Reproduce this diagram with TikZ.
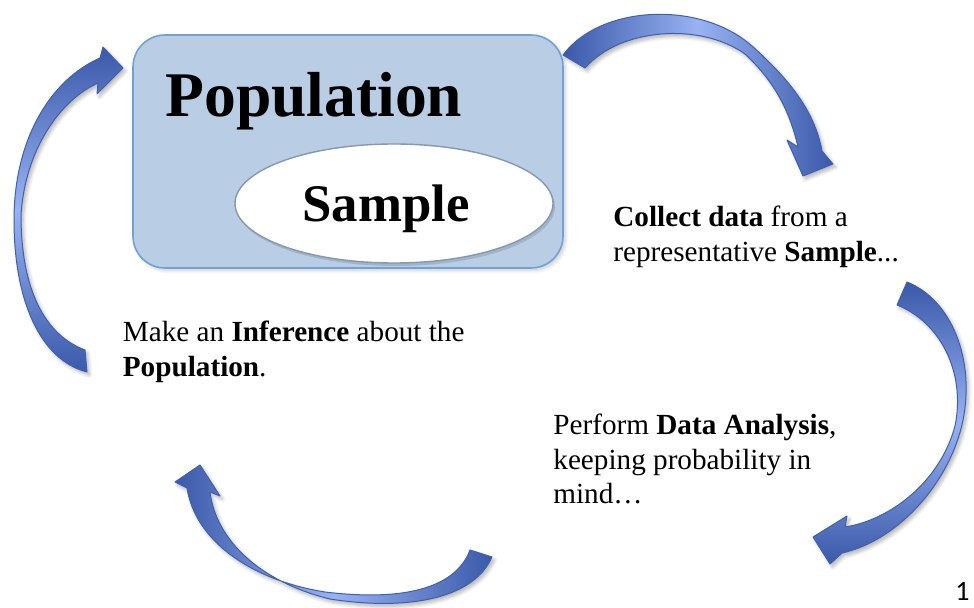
\documentclass[tikz,border=0pt]{standalone}
\usepackage{fontspec}
\setmainfont{Liberation Serif}
\newfontfamily\numfont{Carlito}
\usetikzlibrary{shapes.geometric,shadows.blur}
\definecolor{boxfill}{HTML}{B9CDE5}
\definecolor{boxline}{HTML}{6FA2D8}
\definecolor{ellline}{HTML}{8797AE}
\definecolor{adark}{HTML}{3A59A9}
\definecolor{alight}{HTML}{98B2F2}
\definecolor{aline}{HTML}{3F60B2}
\tikzset{
  popbox/.style={draw=boxline, fill=boxfill, line width=0.8pt, rounded corners=16pt,
    minimum width=215pt, minimum height=116.5pt, inner sep=0pt, outer sep=0pt,
    blur shadow={shadow xshift=1.2pt, shadow yshift=-1.2pt, shadow opacity=20, shadow blur steps=6}},
  sampell/.style={ellipse, draw=ellline, fill=white, line width=0.7pt,
    minimum width=159pt, minimum height=59.5pt, inner sep=0pt},
  ellshadow/.style={ellipse, fill=black, fill opacity=0.12, draw=none,
    minimum width=159pt, minimum height=59.5pt, inner sep=0pt},
  bigtxt/.style={anchor=base west, inner sep=0pt, font=\fontsize{31.8pt}{36pt}\selectfont\bfseries},
  midtxt/.style={anchor=base west, inner sep=0pt, font=\fontsize{26.4pt}{30pt}\selectfont\bfseries},
  bodytxt/.style={anchor=base west, inner sep=0pt, font=\fontsize{14.6pt}{17.25pt}\selectfont},
  curvarrow/.style={draw=aline, line width=0.5pt, line join=round,
    blur shadow={shadow xshift=1.2pt, shadow yshift=-1.5pt, shadow opacity=30, shadow blur steps=6}},
}
\begin{document}
\begin{tikzpicture}[x=0.5pt,y=-0.5pt]
\useasboundingbox (0,0) rectangle (974,608);

% Population box and sample ellipse
\node[popbox] (pop) at (348,151.5) {};
\node[bigtxt] (poptxt) at (165,117) {Population};
\node[ellshadow] (sampsh) at (396,206.5) {};
\node[sampell] (samp) at (394,203.5) {};
\node[midtxt] (samptxt) at (302,222) {Sample};

% Arrow 1: top right
\path[curvarrow, top color=adark, bottom color=adark, middle color=alight, shading angle=90]
  (563,55) .. controls (600,5) and (700,0) .. (752,46)
  .. controls (790,80) and (815,112) .. (822,151)
  -- (833,164) -- (803,176) -- (787,140) -- (798,147)
  .. controls (790,112) and (775,82) .. (745,54)
  .. controls (700,22) and (620,28) .. (585,68) -- cycle;

% Arrow 2: right side
\path[curvarrow, top color=adark, bottom color=adark, middle color=alight, shading angle=0]
  (907,282) .. controls (952,300) and (975,360) .. (963,420)
  .. controls (951,480) and (900,540) .. (842,553)
  -- (830,564) -- (813,537) -- (847,516) -- (845,527)
  .. controls (890,520) and (940,482) .. (955,426)
  .. controls (966,372) and (940,322) .. (897,305) -- cycle;

% Arrow 3: bottom
\path[curvarrow, top color=adark, bottom color=adark, middle color=alight, shading angle=90]
  (492,557) .. controls (472,602) and (400,610) .. (330,599)
  .. controls (260,582) and (216,540) .. (210,492)
  -- (220,496) -- (200,465) -- (175,482) -- (187,488)
  .. controls (195,540) and (250,580) .. (325,592)
  .. controls (400,601) and (455,590) .. (470,550) -- cycle;

% Arrow 4: left side
\path[curvarrow, top color=adark, bottom color=adark, middle color=alight, shading angle=0]
  (87,372) .. controls (40,360) and (14,300) .. (14,220)
  .. controls (14,140) and (50,80) .. (100,58)
  -- (103,47) -- (123,68) -- (97,94) -- (98,83)
  .. controls (60,100) and (25,150) .. (21,215)
  .. controls (21,290) and (45,335) .. (85,350) -- cycle;

% Texts
\node[bodytxt] (c1) at (613,227) {\textbf{Collect data} from a};
\node[bodytxt] (c2) at (613,261.5) {representative \textbf{Sample}...};
\node[bodytxt] (m1) at (122.5,342) {Make an \textbf{Inference} about the};
\node[bodytxt] (m2) at (122.5,376.5) {\textbf{Population}.};
\node[bodytxt] (p1) at (553,435) {Perform \textbf{Data Analysis},};
\node[bodytxt] (p2) at (553,469.5) {keeping probability in};
\node[bodytxt] (p3) at (553,504) {mind…};
\node[anchor=base east, inner sep=0pt, font=\numfont\fontsize{14pt}{16pt}\selectfont] (pg) at (970,600) {1};
\end{tikzpicture}
\end{document}
